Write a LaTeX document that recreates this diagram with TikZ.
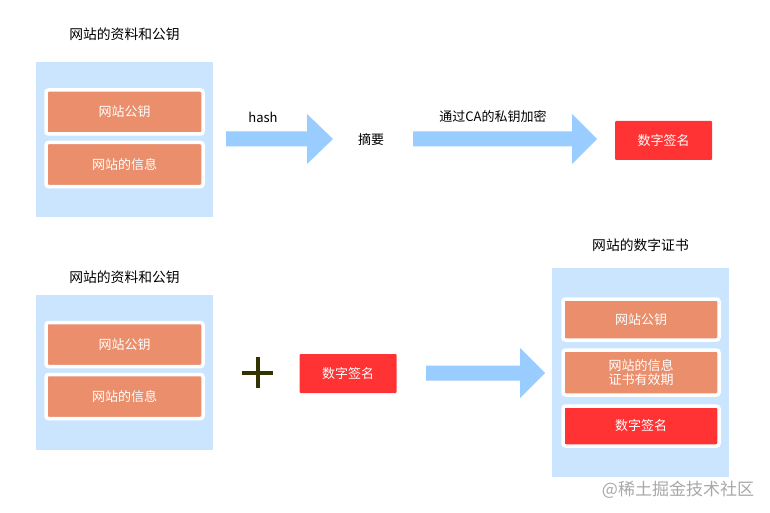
\documentclass[tikz,border=0pt]{standalone}
\usepackage{fontspec}
\setmainfont{Noto Sans CJK SC}
\definecolor{panelblue}{HTML}{CCE5FF}
\definecolor{arrowblue}{HTML}{99CCFF}
\definecolor{itemorange}{HTML}{EA8E6B}
\definecolor{sigred}{HTML}{FF3333}
\definecolor{plusolive}{HTML}{333300}
\definecolor{wmgray}{HTML}{A8A8A8}
\tikzset{
  txt/.style={font=\fontsize{13}{16}\selectfont, text=black, inner sep=0pt},
  title/.style={font=\fontsize{13.8}{16}\selectfont, text=black, inner sep=0pt},
  panel/.style={fill=panelblue, draw=none, inner sep=0pt},
  item/.style={fill=itemorange, draw=white, line width=3.5pt, rounded corners=2.5pt,
     text=white, font=\fontsize{13}{16}\selectfont, align=center, inner sep=0pt,
     minimum width=157pt},
  redbox/.style={fill=sigred, draw=none, rounded corners=1pt, text=white,
     font=\fontsize{13}{16}\selectfont, inner sep=0pt, minimum width=97pt, minimum height=39pt},
  blockarrow/.style={fill=arrowblue, draw=none},
  plussign/.style={minimum size=31pt, inner sep=0pt, path picture={
     \draw[plusolive, line width=4pt] (path picture bounding box.west) -- (path picture bounding box.east)
       (path picture bounding box.north) -- (path picture bounding box.south);}},
}
\begin{document}
\begin{tikzpicture}[x=1pt,y=-1pt]
\useasboundingbox[fill=white] (0,0) rectangle (770,513);

% ---- top row ----
\node[title] (t1) at (124.5,34) {网站的资料和公钥};
\node[panel, minimum width=177pt, minimum height=155pt] (p1) at (124.5,139.5) {};
\node[item, minimum height=44pt] (p1a) at (124.5,112) {网站公钥};
\node[item, minimum height=44pt] (p1b) at (124.5,164.5) {网站的信息};

% arrow 1: hash
\coordinate (a1s) at (226,139);
\coordinate (a1e) at (333,139);
\fill[blockarrow] (a1s) ++(0,-7.5) -- ++(81,0) -- ++(0,-17.5) -- (a1e) -- ++(-26,25) -- ++(0,-17.5) -- ++(-81,0) -- cycle;
\node[txt] (hash) at (263,117) {hash};
\node[txt] (digest) at (371,140) {摘要};

% arrow 2: encrypt
\coordinate (a2s) at (413,139);
\coordinate (a2e) at (597,139);
\fill[blockarrow] (a2s) ++(0,-7.5) -- ++(159,0) -- ++(0,-17.5) -- (a2e) -- ++(-25,25) -- ++(0,-17.5) -- ++(-159,0) -- cycle;
\node[txt] (enc) at (493,117) {通过CA的私钥加密};
\node[redbox] (sig1) at (663.5,140.5) {数字签名};

% ---- bottom row ----
\node[title] (t2) at (124.5,277) {网站的资料和公钥};
\node[panel, minimum width=177pt, minimum height=155pt] (p2) at (124.5,372.5) {};
\node[item, minimum height=44pt] (p2a) at (124.5,344.5) {网站公钥};
\node[item, minimum height=44pt] (p2b) at (124.5,396.5) {网站的信息};

\node[plussign] (plus) at (257.5,372.5) {};
\node[redbox] (sig2) at (348,373.5) {数字签名};

% arrow 3
\coordinate (a3s) at (426,373);
\coordinate (a3e) at (545,373);
\fill[blockarrow] (a3s) ++(0,-7.5) -- ++(94,0) -- ++(0,-17.5) -- (a3e) -- ++(-25,25) -- ++(0,-17.5) -- ++(-94,0) -- cycle;

\node[title] (t3) at (640.5,245) {网站的数字证书};
\node[panel, minimum width=177pt, minimum height=209pt] (p3) at (640.5,372.5) {};
\node[item, minimum width=156pt, minimum height=41pt] (c1) at (641,319.5) {网站公钥};
\node[item, minimum width=156pt, minimum height=45pt] (c2) at (641,372.5) {网站的信息\\[-2pt]证书有效期};
\node[item, fill=sigred, minimum width=156pt, minimum height=40pt] (c3) at (641,426) {数字签名};

\node[font=\fontsize{17}{18}\selectfont, text=wmgray, inner sep=0pt] (wm) at (678,490) {@稀土掘金技术社区};
\end{tikzpicture}
\end{document}
